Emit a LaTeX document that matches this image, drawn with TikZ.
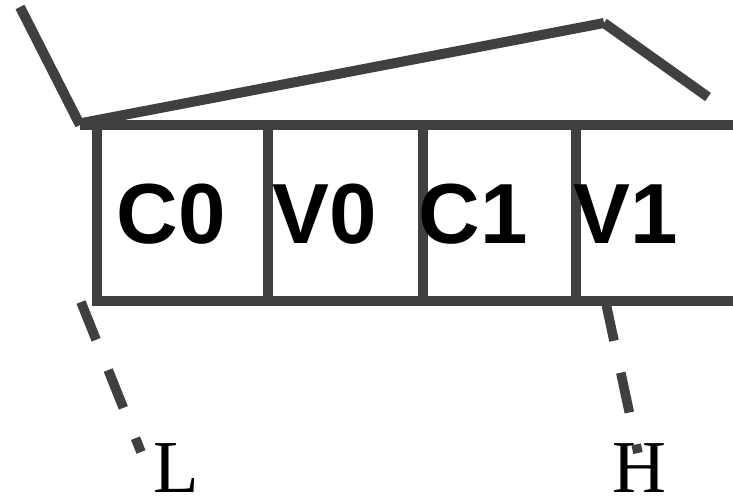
\documentclass[tikz,border=0pt]{standalone}
\usepackage{fontspec}
\setmainfont{Liberation Serif}
\newfontfamily\cellfont{Liberation Sans}
\definecolor{ink}{HTML}{404040}
\begin{document}
\begin{tikzpicture}[x=0.75pt,y=-0.75pt,
  stroke/.style={draw=ink,line width=7.5pt,line cap=butt},
  dashstroke/.style={stroke,line width=7.2pt,dash pattern=on 30.5pt off 24.5pt},
  celltext/.style={inner sep=0pt,anchor=base,font=\cellfont\bfseries\fontsize{64}{64}\selectfont},
  labeltext/.style={inner sep=0pt,anchor=base,font=\fontsize{56}{56}\selectfont}]
\useasboundingbox (0,0) rectangle (733,496);
% roof
\coordinate (r0) at (20,7);
\coordinate (r1) at (80,125);
\coordinate (r2) at (82,123);
\coordinate (r3) at (604,23);
\coordinate (r4) at (708,97);
\draw[stroke] (r0) -- (r1);
\draw[stroke] (r2) -- (r3);
\draw[stroke] (r3) -- (r4);
% array frame
\coordinate (tl) at (80,124.5);
\coordinate (tr) at (733,124.5);
\coordinate (bl) at (97,301);
\coordinate (br) at (733,301);
\coordinate (tlv) at (97,124.5);
\draw[stroke] (tl) -- (tr);
\draw[stroke,line join=miter] (br) -- (bl) -- (tlv);
\foreach \x/\n in {268/a,423/b,575.5/c}{
  \coordinate (\n t) at (\x,124.5);
  \coordinate (\n b) at (\x,301);
  \draw[stroke] (\n t) -- (\n b);
}
% cell texts
\node[celltext] (c0) at (171,243) {C0};
\node[celltext] (v0) at (325,243) {V0};
\node[celltext] (c1) at (473,243) {C1};
\node[celltext] (v1) at (626,243) {V1};
% labels
\node[labeltext] (L) at (176.5,492) {L};
\node[labeltext] (H) at (639,492) {H};
% dashed pointers
\coordinate (ls) at (81,302);
\coordinate (le) at (141,452);
\coordinate (hs) at (605.5,301);
\coordinate (he) at (638,453);
\draw[dashstroke] (ls) -- (le);
\draw[dashstroke] (hs) -- (he);
\end{tikzpicture}
\end{document}
